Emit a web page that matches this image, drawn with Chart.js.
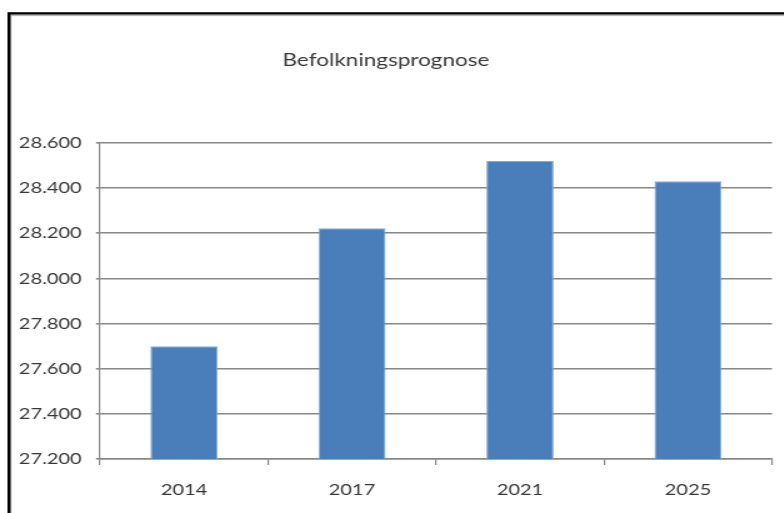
<!DOCTYPE html>
<html>
<head>
<meta charset="utf-8">
<script src="https://cdn.jsdelivr.net/npm/chart.js@4.4.1/dist/chart.umd.min.js"></script>
<style>
html, body { margin: 0; padding: 0; background: #fff; overflow: hidden; }
/* the original picture is stretched sideways, so the chart is drawn narrower and widened */
#wrap { position: absolute; left: 0; top: 0; width: 627.2px; height: 513px; transform: scaleX(1.25); transform-origin: 0 0; }
</style>
</head>
<body>
<div id="wrap"><canvas id="chart"></canvas></div>
<script>
// years on the x axis
var years = ['2014', '2017', '2021', '2025'];
// population forecast per year
var population = [27700, 28222, 28520, 28430];
// y axis range and step
var yMin = 27200;
var yMax = 28600;
var yStep = 200;

var titleText = 'Befolkningsprognose';
var textColor = '#383838';
var gridColor = '#888888';

// frame round the chart, only left and top edges fall inside the picture
var framePlugin = {
	id: 'frame',
	afterDraw: function(chart) {
		var ctx = chart.ctx;
		ctx.save();
		ctx.strokeStyle = '#b0b0b0';
		ctx.lineWidth = 1;
		ctx.strokeRect(8.6, 15.6, chart.width + 20, chart.height + 20);
		ctx.strokeStyle = '#000';
		ctx.lineWidth = 2.4;
		ctx.strokeRect(7.2, 13.4, chart.width + 20, chart.height + 20);
		ctx.restore();
	}
};

var config = {
	type: 'bar',
	data: {
		labels: years,
		datasets: [{
			label: titleText,
			data: population,
			backgroundColor: '#4a7ebb',
			borderColor: '#86acd9',
			borderWidth: 1,
			barPercentage: 0.4,
			categoryPercentage: 1
		}]
	},
	options: {
		responsive: true,
		maintainAspectRatio: false,
		animation: false,
		layout: { padding: { left: 0, right: 9.6, top: 0, bottom: 0 } },
		plugins: {
			legend: { display: false },
			tooltip: { enabled: false },
			title: {
				display: true,
				text: titleText,
				color: textColor,
				font: { family: 'Lato', size: 18, weight: 'normal', lineHeight: 1.2 },
				padding: { top: 49.2, bottom: 72.2 }
			}
		},
		scales: {
			x: {
				grid: { display: true, drawOnChartArea: false, drawTicks: true, tickLength: 6, color: gridColor, lineWidth: 1.2, offset: true },
				border: { display: true, color: gridColor, width: 1.5 },
				ticks: { color: textColor, font: { family: 'Lato', size: 16 }, padding: 15 },
				afterFit: function(scale) { scale.height = 54; }
			},
			y: {
				min: yMin,
				max: yMax,
				grid: { color: gridColor, lineWidth: 1.6, tickLength: 3.2 },
				border: { display: true, color: gridColor, width: 1.2 },
				ticks: {
					stepSize: yStep,
					color: textColor,
					font: { family: 'Lato', size: 16 },
					padding: 11.5,
					callback: function(v) { return v.toLocaleString('da-DK'); }
				},
				afterFit: function(scale) { scale.width = 80; }
			}
		}
	},
	plugins: [framePlugin]
};

window.myBar = new Chart(document.getElementById('chart').getContext('2d'), config);
</script>
</body>
</html>
